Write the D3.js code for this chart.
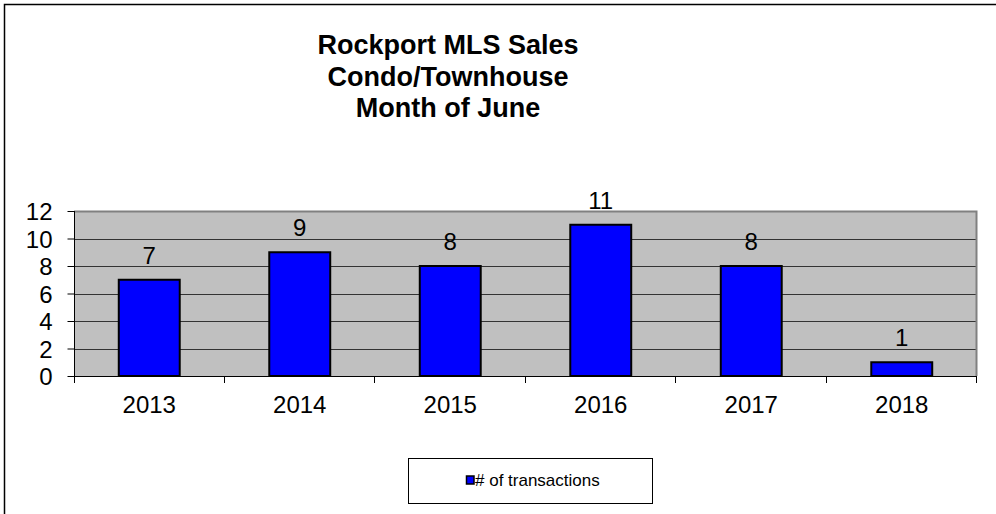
<!DOCTYPE html>
<html>
<head>
<meta charset="utf-8">
<script src="https://cdn.jsdelivr.net/npm/d3@7"></script>
<style>
  body { margin: 0; background: #fff; }
  svg { display: block; font-family: Arial, "Liberation Sans", sans-serif; }
</style>
</head>
<body>
<div id="chart"></div>
<script>
// chart data
const years = ["2013", "2014", "2015", "2016", "2017", "2018"];
const transactions = [7, 9, 8, 11, 8, 1];
const yTicks = [0, 2, 4, 6, 8, 10, 12];
const titleLines = ["Rockport MLS Sales", "Condo/Townhouse", "Month of June"];
const seriesName = "# of transactions";

const width = 996;
const height = 514;
const plot = { left: 74, right: 977, top: 211, bottom: 376 };

const svg = d3.select("#chart")
    .append("svg")
    .attr("width", width)
    .attr("height", height);

// outer chart frame (right and bottom run off the picture)
svg.append("rect")
    .attr("x", 4.5)
    .attr("y", 4.5)
    .attr("width", width + 10)
    .attr("height", height + 10)
    .attr("fill", "none")
    .attr("stroke", "#000")
    .attr("stroke-width", 1.5);

///
/// TITLE
///
svg.append("g")
    .selectAll("text")
    .data(titleLines)
    .join("text")
    .attr("x", 448)
    .attr("y", (d, i) => 54 + i * 31.5)
    .attr("text-anchor", "middle")
    .attr("font-size", 27)
    .attr("font-weight", "bold")
    .text(d => d);

///
/// SCALES
///
const x = d3.scaleBand()
    .domain(years)
    .range([plot.left, plot.right])
    .paddingInner(0.595)
    .paddingOuter(0.2975);

const y = d3.scaleLinear()
    .domain([0, 12])
    .range([plot.bottom, plot.top]);

// plot background
svg.append("rect")
    .attr("x", plot.left)
    .attr("y", plot.top)
    .attr("width", plot.right - plot.left)
    .attr("height", plot.bottom - plot.top)
    .attr("fill", "#c0c0c0");

// grid lines
svg.append("g")
    .selectAll("line")
    .data(yTicks.filter(d => d > 0 && d < 12))
    .join("line")
    .attr("x1", plot.left)
    .attr("x2", plot.right)
    .attr("y1", d => Math.round(y(d)) + 0.5)
    .attr("y2", d => Math.round(y(d)) + 0.5)
    .attr("stroke", "#333")
    .attr("stroke-width", 1);

// grey border top/right
svg.append("path")
    .attr("d", `M${plot.left},${plot.top + 0.5}H${plot.right - 0.5}V${plot.bottom}`)
    .attr("fill", "none")
    .attr("stroke", "#808080")
    .attr("stroke-width", 2);

///
/// BARS
///
svg.append("g")
    .selectAll("rect")
    .data(transactions)
    .join("rect")
    .attr("x", (d, i) => x(years[i]))
    .attr("y", d => y(d))
    .attr("width", x.bandwidth())
    .attr("height", d => y(0) - y(d))
    .attr("fill", "#0000ff")
    .attr("stroke", "#000")
    .attr("stroke-width", 2);

// value labels
svg.append("g")
    .selectAll("text")
    .data(transactions)
    .join("text")
    .attr("x", (d, i) => x(years[i]) + x.bandwidth() / 2)
    .attr("y", d => y(d) - 16)
    .attr("text-anchor", "middle")
    .attr("font-size", 24)
    .text(d => d);

///
/// AXES
///
const yAxis = d3.axisLeft(y)
    .tickValues(yTicks)
    .tickSize(7)
    .tickPadding(15);

svg.append("g")
    .attr("transform", `translate(${plot.left + 0.5},0)`)
    .call(yAxis)
    .call(g => g.select(".domain").attr("d", `M0,${plot.top}V${plot.bottom + 7}`))
    .call(g => g.selectAll("text").attr("font-size", 24).attr("fill", "#000").attr("dy", "0.36em"))
    .call(g => g.attr("font-family", null));

// x axis line and ticks at category boundaries
const boundaries = d3.range(years.length + 1).map(i => plot.left + i * (plot.right - plot.left) / years.length);

svg.append("line")
    .attr("x1", plot.left)
    .attr("x2", plot.right)
    .attr("y1", plot.bottom + 0.5)
    .attr("y2", plot.bottom + 0.5)
    .attr("stroke", "#000");

svg.append("g")
    .selectAll("line")
    .data(boundaries.slice(1))
    .join("line")
    .attr("x1", d => Math.round(d) - 0.5)
    .attr("x2", d => Math.round(d) - 0.5)
    .attr("y1", plot.bottom)
    .attr("y2", plot.bottom + 7)
    .attr("stroke", "#000");

svg.append("g")
    .selectAll("text")
    .data(years)
    .join("text")
    .attr("x", d => x(d) + x.bandwidth() / 2)
    .attr("y", 413)
    .attr("text-anchor", "middle")
    .attr("font-size", 24)
    .text(d => d);

///
/// LEGEND
///
const legend = svg.append("g");
legend.append("rect")
    .attr("x", 408.5)
    .attr("y", 458.5)
    .attr("width", 244)
    .attr("height", 45)
    .attr("fill", "#fff")
    .attr("stroke", "#000");
legend.append("rect")
    .attr("x", 466.5)
    .attr("y", 476)
    .attr("width", 7.5)
    .attr("height", 8)
    .attr("fill", "#0000ff")
    .attr("stroke", "#000")
    .attr("stroke-width", 1.5);
legend.append("text")
    .attr("x", 475)
    .attr("y", 486)
    .attr("font-size", 17)
    .text(seriesName);
</script>
</body>
</html>
